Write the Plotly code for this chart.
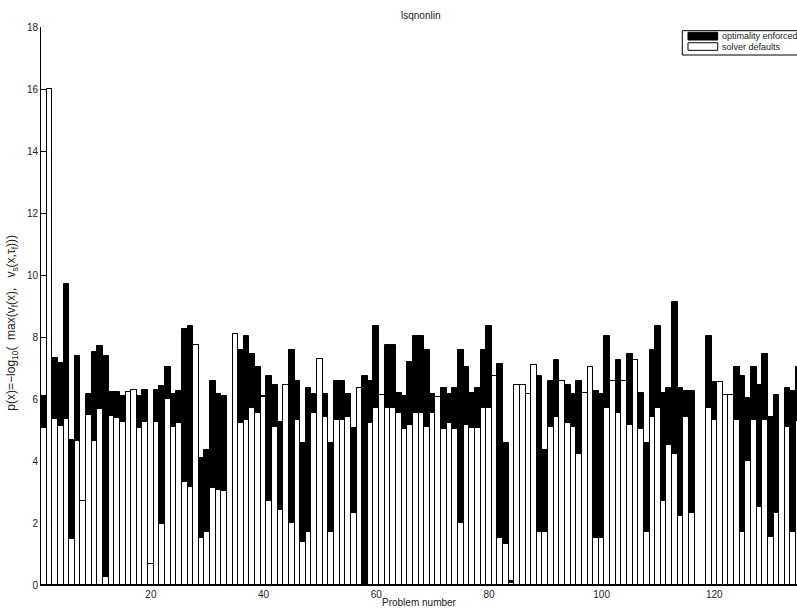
import plotly.graph_objects as go

# p(x) per problem for the two lsqnonlin runs
problem = list(range(1, 136))

optimality_enforced = [
    6.09, 16.0, 7.32, 7.15, 9.70, 4.69, 7.39, 2.70, 6.15, 7.52,
    7.70, 7.39, 6.22, 6.22, 6.09, 6.22, 6.29, 6.09, 6.29, 0.69,
    6.29, 6.41, 7.02, 6.17, 6.26, 8.27, 8.34, 7.74, 4.09, 4.34,
    6.57, 6.15, 6.11, 0.00, 8.09, 7.57, 8.04, 7.44, 7.04, 6.10,
    6.74, 6.44, 5.27, 6.44, 7.57, 6.57, 4.57, 6.34, 6.15, 7.28,
    6.15, 4.57, 6.57, 6.57, 6.15, 5.05, 6.34, 6.74, 6.57, 8.34,
    6.13, 7.75, 7.75, 6.19, 6.11, 7.20, 8.04, 8.04, 7.57, 6.15,
    6.08, 6.34, 6.15, 6.34, 7.57, 7.04, 6.19, 6.34, 7.57, 8.34,
    6.74, 7.14, 4.57, 0.13, 6.44, 6.44, 6.15, 7.09, 6.74, 4.34,
    6.57, 7.27, 6.57, 6.44, 6.15, 6.57, 6.19, 7.04, 6.26, 6.15,
    8.04, 6.57, 7.27, 6.57, 7.44, 7.27, 6.19, 4.57, 7.57, 8.34,
    6.19, 6.34, 9.14, 6.34, 6.26, 6.26, 0.00, 0.00, 8.04, 6.56,
    6.56, 6.13, 6.13, 7.04, 6.74, 6.04, 7.04, 6.45, 7.45, 5.43,
    6.13, 0.00, 6.34, 6.27, 7.04,
]

solver_defaults = [
    5.07, 16.0, 5.37, 5.13, 5.37, 1.49, 4.66, 2.70, 5.48, 4.66,
    5.67, 0.27, 5.45, 5.40, 5.26, 6.22, 6.29, 5.07, 5.26, 0.69,
    5.26, 1.96, 6.00, 5.11, 5.24, 3.31, 3.16, 7.74, 1.53, 1.71,
    3.12, 3.06, 3.02, 0.00, 8.09, 5.24, 5.32, 5.71, 5.54, 6.08,
    2.71, 5.11, 2.41, 6.44, 2.01, 5.32, 1.40, 1.71, 5.54, 7.28,
    5.41, 1.71, 5.32, 5.32, 5.41, 2.31, 6.34, 0.00, 5.24, 5.71,
    6.13, 5.71, 5.71, 5.54, 5.03, 5.16, 5.54, 5.54, 5.11, 5.54,
    6.08, 5.03, 5.24, 5.03, 2.01, 5.16, 5.05, 5.05, 5.71, 5.71,
    6.74, 1.53, 1.31, 0.07, 6.44, 6.44, 6.15, 7.09, 1.71, 1.71,
    5.11, 5.41, 6.57, 5.24, 5.11, 4.24, 6.19, 7.04, 1.53, 1.53,
    5.71, 6.57, 5.54, 6.57, 5.16, 7.27, 5.03, 1.71, 5.41, 5.71,
    2.71, 4.53, 4.24, 2.24, 5.41, 2.31, 0.00, 0.00, 5.72, 5.32,
    6.56, 6.13, 6.13, 5.32, 1.72, 4.01, 5.32, 2.53, 5.32, 1.54,
    2.31, 0.00, 5.11, 1.72, 5.30,
]

x_ticks = [20, 40, 60, 80, 100, 120]
y_ticks = [0, 2, 4, 6, 8, 10, 12, 14, 16, 18]

FONT = "Liberation Sans, Arial, Helvetica, sans-serif"
TXT = "#222222"

fig = go.Figure()
fig.add_trace(go.Bar(
    x=problem, y=optimality_enforced, name="optimality enforced",
    width=1.0, marker=dict(color="black", line=dict(color="black", width=1)),
    showlegend=False,
))
fig.add_trace(go.Bar(
    x=problem, y=solver_defaults, name="solver defaults",
    width=1.0, marker=dict(color="white", line=dict(color="black", width=1)),
    showlegend=False,
))

# legend box drawn by hand (wide swatches, box runs off the right edge)
shapes = [
    dict(type="rect", xref="paper", yref="paper", x0=0.8483, x1=1.08, y0=0.9498, y1=0.9934,
         line=dict(color="black", width=1), fillcolor="white", layer="above"),
    dict(type="rect", xref="paper", yref="paper", x0=0.8558, x1=0.8951, y0=0.9767, y1=0.9905,
         line=dict(color="black", width=1), fillcolor="black", layer="above"),
    dict(type="rect", xref="paper", yref="paper", x0=0.8558, x1=0.8951, y0=0.9582, y1=0.9718,
         line=dict(color="black", width=1), fillcolor="white", layer="above"),
]

ylabel = ("p(x)=\u2212log<sub>10</sub>(  max(v<sub>f</sub>(x),   "
          "v<sub>s</sub>(x,\u03c4<sub>f</sub>)))")

annotations = [
    dict(text="optimality enforced", xref="paper", yref="paper", x=0.8985, y=0.9838,
         xanchor="left", yanchor="middle", showarrow=False, font=dict(size=9, color=TXT, family=FONT)),
    dict(text="solver defaults", xref="paper", yref="paper", x=0.8985, y=0.9650,
         xanchor="left", yanchor="middle", showarrow=False, font=dict(size=9, color=TXT, family=FONT)),
    dict(text="lsqnonlin", xref="paper", yref="paper", x=0.5026, y=1.0203,
         xanchor="center", yanchor="middle", showarrow=False, font=dict(size=10, color=TXT, family=FONT)),
    dict(text="Problem number", xref="paper", yref="paper", x=0.5013, y=-0.0305,
         xanchor="center", yanchor="middle", showarrow=False, font=dict(size=10, color=TXT, family=FONT)),
    dict(text=ylabel, xref="paper", yref="paper", x=-0.0385, y=0.47, textangle=-90,
         xanchor="center", yanchor="middle", showarrow=False, font=dict(size=12, color=TXT, family=FONT)),
]

fig.update_layout(
    width=797, height=612,
    margin=dict(l=41, r=0, t=27, b=27, pad=0),
    paper_bgcolor="white", plot_bgcolor="white",
    barmode="overlay", bargap=0,
    shapes=shapes, annotations=annotations,
    font=dict(family=FONT, size=10, color=TXT),
)
fig.update_xaxes(
    range=[0.5, 134.67], tickvals=x_ticks, ticks="inside", ticklen=5,
    tickcolor="black", showline=True, linecolor="black", linewidth=1,
    showgrid=False, zeroline=False, layer="below traces",
    tickfont=dict(size=10, color=TXT, family=FONT),
)
fig.update_yaxes(
    range=[0, 18], tickvals=y_ticks, ticks="inside", ticklen=6,
    tickcolor="black", showline=True, linecolor="black", linewidth=1,
    showgrid=False, zeroline=False, layer="below traces",
    tickfont=dict(size=10, color=TXT, family=FONT),
)

fig.write_html("out.html")
